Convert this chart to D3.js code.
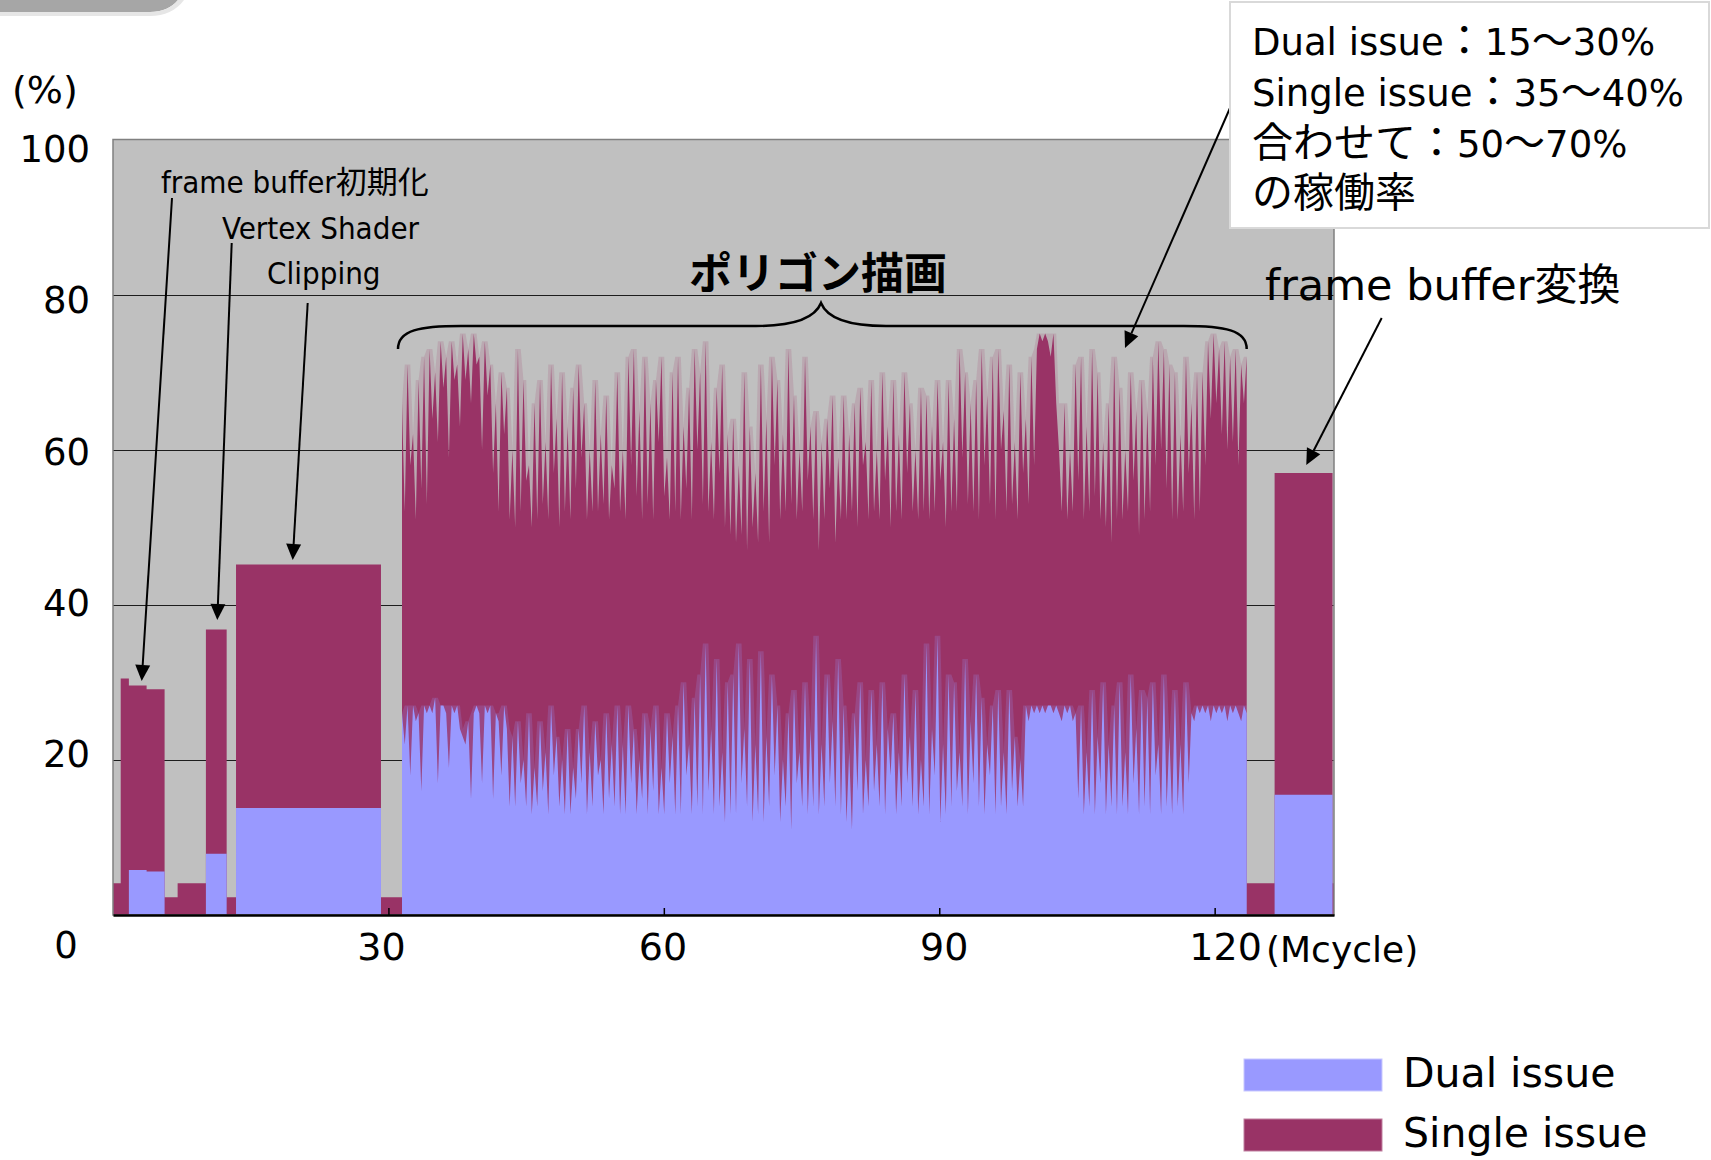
<!DOCTYPE html>
<html>
<head>
<meta charset="utf-8">
<script src="https://cdn.jsdelivr.net/npm/d3@7"></script>
<style>
  html, body { margin: 0; padding: 0; background: #ffffff; }
  svg { display: block; }
</style>
</head>
<body>
<svg id="chart" width="1711" height="1160"></svg>
<script>
// ---- Series: issue utilisation (%) against time in Mcycle ----
const seriesNames = ["Dual issue", "Single issue"];

// Flat phases (frame buffer init, vertex shader, clipping, frame buffer conversion, idle gaps)
const segStart = [0, 0.84, 1.73, 3.66, 5.62, 7.04, 10.12, 12.38, 13.40, 29.19, 123.49, 126.53, 132.84];
const segEnd   = [0.84, 1.73, 3.66, 5.62, 7.04, 10.12, 12.38, 13.40, 29.19, 31.48, 126.53, 132.84, 133.0];
const segTotal = [4.1, 30.5, 29.6, 29.1, 2.3, 4.1, 36.8, 2.3, 45.2, 2.3, 4.1, 57.0, 4.1];
const segDual  = [0, 0, 5.8, 5.6, 0, 0, 7.9, 0, 13.8, 0, 0, 15.5, 0];

// Polygon drawing phase: evenly spaced samples between polyStart and polyEnd
const polyStart = 31.48, polyEnd = 123.49;
const polyTotal = [
  66,52,71,58,62,51,69,55,72,53,  73,64,70,61,74,68,72,59,74,69,
  71,63,75,69,73,66,75,71,72,60,  74,67,71,57,66,52,70,62,68,51,
  60,50,73,52,69,56,58,50,66,51,  69,53,61,51,71,57,64,50,70,52,
  63,51,68,55,71,59,66,51,60,52,  69,52,62,53,67,51,58,55,70,52,
  60,51,72,58,73,54,65,51,72,53,  66,51,69,61,72,54,59,51,70,52,
  72,51,63,55,68,51,73,60,70,53,  74,52,61,51,68,57,71,50,62,49,
  64,48,58,49,70,47,63,50,57,48,  71,52,64,48,72,58,69,51,62,52,
  73,53,67,51,60,52,72,56,63,51,  65,47,61,51,64,55,67,48,59,51,
  67,51,62,52,66,50,68,58,61,51,  69,52,60,51,70,56,63,50,69,52,
  62,51,70,57,66,52,60,51,68,52,  67,51,63,52,69,56,61,50,69,52,
  64,52,73,59,70,53,66,52,69,51,  73,58,67,53,72,51,73,60,65,52,
  71,53,61,51,70,57,64,53,72,58,  73,75,74,75,74,72,75,66,60,52,
  66,51,60,52,71,56,72,51,63,52,  73,54,70,51,61,50,66,48,72,51,
  68,51,60,52,70,56,65,49,69,51,  65,52,72,58,74,60,73,55,71,51,
  70,51,62,52,72,57,66,51,70,52,  70,58,74,64,75,66,73,62,74,60,
  72,61,73,58,71,66,72
];
const polyDual = [
  26,22,27,18,27,25,26,16,27,26,  27,26,28,17,27,27,26,19,27,26,
  27,24,23,22,25,15,26,27,26,17,  27,26,27,15,26,25,18,27,24,14,
  23,14,25,17,20,14,26,13,19,14,  25,16,21,13,27,18,23,14,20,13,
  24,13,19,15,24,17,27,13,21,14,  25,18,20,13,26,15,22,14,27,13,
  22,13,27,17,24,13,20,15,26,13,  24,16,27,13,19,13,26,17,23,13,
  27,13,30,18,22,13,28,14,31,13,  35,16,24,13,33,14,21,12,30,13,
  31,13,35,17,24,14,33,12,22,13,  34,12,23,14,31,18,27,12,20,14,
  26,11,29,17,21,14,30,13,24,14,  36,13,22,14,31,17,25,14,33,13,
  27,12,21,11,26,16,30,13,20,14,  29,16,22,14,30,13,24,18,26,13,
  21,14,31,17,23,14,29,13,20,14,  35,13,24,18,36,12,22,13,31,14,
  30,16,21,14,33,13,25,17,31,14,  28,13,22,18,27,13,29,14,21,13,
  29,16,23,14,20,14,27,25,27,26,  27,26,27,26,27,27,26,27,26,25,
  27,26,27,25,26,15,27,13,21,14,  29,13,23,17,30,13,22,14,27,13,
  30,14,21,13,31,17,24,13,29,14,  28,13,30,18,22,13,31,14,23,13,
  29,14,22,13,30,17,26,25,27,26,  27,26,27,25,27,26,27,26,27,25,
  27,26,27,26,25,27,26
];

const xTicks = [30, 60, 90, 120];
const yTicks = [20, 40, 60, 80, 100];
const gridValues = [20, 40, 60, 80];

// ---- Styling ----
const C_DUAL = "#9999ff", C_SINGLE = "#993366", C_PLOT = "#c0c0c0";
const F_SANS = "'DejaVu Sans', 'Noto Sans CJK JP', sans-serif";
const F_COND = "'DejaVu Sans Condensed', 'DejaVu Sans', 'Noto Sans CJK JP', sans-serif";
const F_JP = "'Noto Sans CJK JP', 'DejaVu Sans', sans-serif";

const svg = d3.select("#chart");
const plot = { left: 113, right: 1334, top: 139.5, bottom: 915 };

const x = d3.scaleLinear().domain([0, 133]).range([plot.left, plot.right]);
const y = d3.scaleLinear().domain([0, 100]).range([plot.bottom, plot.top]);
// Hand-set slide labels sit on a slightly wider pitch than the plot grid
const xLab = d3.scaleLinear().domain([0, 133]).range([99.7, 1347]);
const yLab = d3.scaleLinear().domain([0, 100]).range([906.4, 149.4]);

// Slide title bar remnant in the top-left corner
svg.append("path")
  .attr("d", "M0,0 L178,0 Q168,12 150,12 L0,12 Z")
  .attr("fill", "#a6a6a6");
svg.append("path")
  .attr("d", "M0,12 L150,12 Q168,12 178,0 L184,0 Q172,16 150,16 L0,16 Z")
  .attr("fill", "#e6e6e6");

// ---- Build the combined point series ----
const pts = [];
const pushSeg = i => {
  pts.push({ x: segStart[i], t: segTotal[i], d: segDual[i] });
  pts.push({ x: segEnd[i], t: segTotal[i], d: segDual[i] });
};
segStart.forEach((s, i) => { if (s < polyStart) pushSeg(i); });
const nPoly = polyTotal.length;
const poly = polyTotal.map((t, i) => ({
  x: polyStart + i * (polyEnd - polyStart) / (nPoly - 1),
  t: t,
  d: polyDual[i]
}));
pts.push(...poly);
segStart.forEach((s, i) => { if (s >= polyEnd) pushSeg(i); });

// Faint envelope over neighbouring samples (anti-aliased haze above the spikes)
const haze = poly.map((p, i) => {
  const win = poly.slice(Math.max(0, i - 1), i + 2);
  return { x: p.x, t: d3.max(win, q => q.t), d: d3.max(win, q => q.d) };
});

// ---- Plot area ----
svg.append("defs").append("clipPath").attr("id", "plotClip")
  .append("rect")
  .attr("x", plot.left).attr("y", plot.top)
  .attr("width", plot.right - plot.left).attr("height", plot.bottom - plot.top);

svg.append("rect")
  .attr("x", plot.left).attr("y", plot.top)
  .attr("width", plot.right - plot.left).attr("height", plot.bottom - plot.top)
  .attr("fill", C_PLOT);

svg.append("g").selectAll("line").data(gridValues).join("line")
  .attr("x1", plot.left).attr("x2", plot.right)
  .attr("y1", d => Math.round(y(d)) + 0.5).attr("y2", d => Math.round(y(d)) + 0.5)
  .attr("stroke", "#000").attr("stroke-width", 1.2).attr("stroke-opacity", 0.85);

const gData = svg.append("g").attr("clip-path", "url(#plotClip)");

const areaTotal = d3.area().x(d => x(d.x)).y0(y(0)).y1(d => y(d.t));
const areaDual = d3.area().x(d => x(d.x)).y0(y(0)).y1(d => y(d.d));

gData.append("path").datum(haze).attr("d", areaTotal)
  .attr("fill", C_SINGLE).attr("fill-opacity", 0.16);
gData.append("path").datum(pts).attr("d", areaTotal).attr("fill", C_SINGLE);
gData.append("path").datum(haze).attr("d", areaDual)
  .attr("fill", C_DUAL).attr("fill-opacity", 0.2);
gData.append("path").datum(pts).attr("d", areaDual).attr("fill", C_DUAL);

// Plot frame
svg.append("rect")
  .attr("x", plot.left).attr("y", plot.top)
  .attr("width", plot.right - plot.left).attr("height", plot.bottom - plot.top)
  .attr("fill", "none").attr("stroke", "#808080").attr("stroke-width", 1.5);

// ---- Axes ----
const xAxis = svg.append("g")
  .attr("transform", `translate(0,${plot.bottom})`)
  .call(d3.axisBottom(x).tickValues(xTicks).tickSize(-7).tickFormat("").tickSizeOuter(0));
xAxis.select(".domain").attr("stroke", "#000").attr("stroke-width", 2.5);
xAxis.selectAll(".tick line").attr("stroke", "#000").attr("stroke-width", 1.5);

const xLabels = svg.append("g")
  .attr("transform", `translate(0,${plot.bottom})`)
  .call(d3.axisBottom(xLab).tickValues(xTicks).tickSize(0).tickPadding(18));
xLabels.select(".domain").remove();
xLabels.selectAll(".tick text")
  .attr("fill", "#000").style("font-family", F_SANS).style("font-size", "38px");

const yAxis = svg.append("g")
  .attr("transform", `translate(${plot.left},0)`)
  .call(d3.axisLeft(yLab).tickValues(yTicks).tickSize(0).tickPadding(23));
yAxis.select(".domain").remove();
yAxis.selectAll(".tick text")
  .attr("fill", "#000").style("font-family", F_SANS).style("font-size", "37px");

// Origin label and units
svg.append("text").attr("x", 66).attr("y", 958).attr("text-anchor", "middle")
  .style("font-family", F_SANS).style("font-size", "37px").text("0");
svg.append("text").attr("x", 12).attr("y", 103)
  .style("font-family", F_SANS).style("font-size", "38px").text("(%)");
svg.append("text").attr("x", 1266).attr("y", 962)
  .style("font-family", F_SANS).style("font-size", "36px").text("(Mcycle)");

// ---- Annotations ----
const ann = svg.append("g");
const arrow = (x1, y1, x2, y2) => {
  const a = Math.atan2(y2 - y1, x2 - x1), L = 16, W = 7.5;
  const bx = x2 - L * Math.cos(a), by = y2 - L * Math.sin(a);
  ann.append("line").attr("x1", x1).attr("y1", y1).attr("x2", bx).attr("y2", by)
    .attr("stroke", "#000").attr("stroke-width", 2);
  ann.append("path")
    .attr("d", `M${x2},${y2} L${bx - W * Math.sin(a)},${by + W * Math.cos(a)} L${bx + W * Math.sin(a)},${by - W * Math.cos(a)} Z`)
    .attr("fill", "#000");
};

ann.append("text").attr("x", 161).attr("y", 193)
  .style("font-family", F_COND).style("font-size", "31px").text("frame buffer初期化");
ann.append("text").attr("x", 222).attr("y", 239)
  .style("font-family", F_COND).style("font-size", "31px").text("Vertex Shader");
ann.append("text").attr("x", 267).attr("y", 284)
  .style("font-family", F_COND).style("font-size", "31px").text("Clipping");

arrow(172, 198, 141.7, 681);
arrow(231.7, 243, 217.3, 620);
arrow(307.7, 303, 292.7, 560);

// Brace over the polygon drawing phase
const bl = x(polyStart) - 4, br = x(polyEnd), bm = 821, yb = 326, ye = 349, yp = 303;
ann.append("path")
  .attr("d", `M${bl},${ye} C${bl},${yb + 4} ${bl + 22},${yb} ${bl + 63},${yb}
              L${bm - 65},${yb} C${bm - 26},${yb} ${bm - 6},${yb - 8} ${bm},${yp}
              C${bm + 6},${yb - 8} ${bm + 26},${yb} ${bm + 65},${yb}
              L${br - 63},${yb} C${br - 22},${yb} ${br},${yb + 4} ${br},${ye}`)
  .attr("fill", "none").attr("stroke", "#000").attr("stroke-width", 2.5);

ann.append("text").attr("x", 818).attr("y", 289).attr("text-anchor", "middle")
  .style("font-family", F_JP).style("font-size", "43px").style("font-weight", "700")
  .text("ポリゴン描画");

ann.append("text").attr("x", 1265).attr("y", 300)
  .style("font-family", F_SANS).style("font-size", "43px").text("frame buffer変換");
arrow(1381.7, 318, 1306.3, 465);

// Callout box; full-width (Japanese) runs are set a little larger than the Latin runs
arrow(1230, 108, 1125, 348);
ann.append("rect").attr("x", 1230).attr("y", 2).attr("width", 479).attr("height", 226)
  .attr("fill", "#fff").attr("stroke", "#d9d9d9").attr("stroke-width", 2);
const calloutLines = ["Dual issue：15～30%", "Single issue：35～40%", "合わせて：50～70%", "の稼働率"];
const wideRun = /([\u3000-\u9fff\uff00-\uffef]+)/;
calloutLines.forEach((line, i) => {
  const t = ann.append("text").attr("x", 1252).attr("y", 55 + i * 50.8)
    .style("font-family", F_SANS);
  line.split(wideRun).filter(s => s.length).forEach(part => {
    t.append("tspan")
      .style("font-size", wideRun.test(part) ? "41px" : "37px")
      .text(part);
  });
});

// ---- Legend ----
const legend = svg.append("g");
const legendColors = [C_DUAL, C_SINGLE];
seriesNames.forEach((name, i) => {
  const ly = 1059 + i * 60;
  legend.append("rect").attr("x", 1244).attr("y", ly).attr("width", 138).attr("height", 32)
    .attr("fill", legendColors[i]).attr("stroke", i ? "#c080a0" : "#c8c8ff").attr("stroke-width", 1);
  legend.append("text").attr("x", 1403).attr("y", ly + 28)
    .style("font-family", F_SANS).style("font-size", "41px").text(name);
});
</script>
</body>
</html>
